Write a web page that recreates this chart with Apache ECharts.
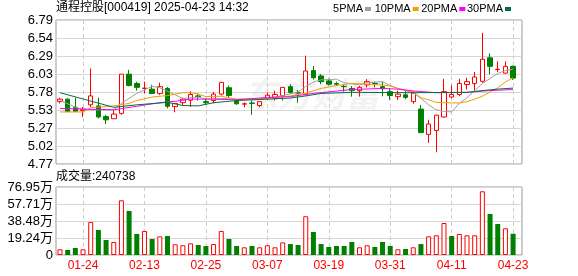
<!DOCTYPE html>
<html><head><meta charset="utf-8">
<script src="https://cdn.jsdelivr.net/npm/echarts@6/dist/echarts.min.js"></script>
<style>html,body{margin:0;padding:0;background:#fff}#c{width:578px;height:276px}</style>
</head><body><div id="c"></div>
<script>
const titleText = '通程控股[000419] 2025-04-23 14:32';
const volTitle = '成交量:240738';
const dates = ['01-21','01-22','01-23','01-24','01-27','02-05','02-06','02-07','02-10','02-11','02-12','02-13','02-14','02-17','02-18','02-19','02-20','02-21','02-24','02-25','02-26','02-27','02-28','03-03','03-04','03-05','03-06','03-07','03-10','03-11','03-12','03-13','03-14','03-17','03-18','03-19','03-20','03-21','03-24','03-25','03-26','03-27','03-28','03-31','04-01','04-02','04-03','04-07','04-08','04-09','04-10','04-11','04-14','04-15','04-16','04-17','04-18','04-21','04-22','04-23'];
// [open, close, low, high]
const candles = [
[5.645,5.68,5.62,5.70],[5.68,5.505,5.50,5.69],[5.565,5.51,5.50,5.70],[5.52,5.54,5.43,5.57],[5.60,5.725,5.565,6.11],
[5.585,5.43,5.41,5.70],[5.435,5.39,5.33,5.46],[5.405,5.47,5.40,5.53],[5.48,6.03,5.46,6.03],[6.03,5.87,5.86,6.09],
[5.90,5.845,5.80,5.925],[5.83,5.835,5.76,5.925],[5.82,5.76,5.75,5.88],[5.76,5.855,5.74,5.91],[5.83,5.58,5.55,5.85],
[5.575,5.62,5.495,5.625],[5.63,5.68,5.60,5.70],[5.665,5.745,5.57,5.79],[5.725,5.715,5.66,5.76],[5.645,5.63,5.60,5.69],
[5.66,5.75,5.62,5.78],[5.75,5.915,5.73,5.92],[5.84,5.73,5.71,5.87],[5.655,5.615,5.60,5.68],[5.61,5.615,5.565,5.635],
[5.625,5.62,5.46,5.66],[5.59,5.645,5.565,5.65],[5.69,5.735,5.67,5.77],[5.69,5.745,5.66,5.80],[5.73,5.845,5.66,5.85],
[5.855,5.775,5.75,5.89],[5.77,5.765,5.63,5.81],[5.75,6.075,5.73,6.29],[6.08,5.98,5.955,6.145],[6.005,5.925,5.89,6.03],
[5.935,5.89,5.87,5.97],[5.90,5.89,5.865,5.925],[5.86,5.855,5.785,5.89],[5.83,5.80,5.715,5.865],[5.80,5.845,5.715,5.865],
[5.88,5.925,5.845,5.96],[5.90,5.895,5.845,5.925],[5.855,5.825,5.72,5.92],[5.785,5.73,5.67,5.835],[5.715,5.75,5.67,5.80],
[5.74,5.705,5.68,5.79],[5.645,5.765,5.615,5.79],[5.54,5.21,5.21,5.595],[5.185,5.33,5.065,5.39],[5.24,5.455,4.935,5.46],
[5.43,5.785,5.42,5.965],[5.71,5.745,5.69,5.875],[5.745,5.90,5.72,5.965],[5.885,5.925,5.815,5.98],[5.90,5.99,5.785,6.06],
[5.93,6.24,5.91,6.61],[6.26,6.14,6.03,6.32],[6.095,6.10,6.06,6.21],[6.045,6.14,6.04,6.21],[6.14,5.975,5.95,6.15]
];
const volumes = [64500,56600,79000,64500,373000,283000,170000,147000,619000,498000,
238000,272000,181000,211000,215000,121000,110000,132000,113000,102000,
124000,272000,181000,102000,87000,102000,87000,110000,87000,143000,
124000,113000,438000,260000,124000,90500,102000,102000,147000,87000,
110000,90500,147000,102000,64500,68000,87000,124000,211000,223000,
362000,215000,238000,223000,223000,721000,464000,351000,302000,240738];
const volUp = [1,0,0,1,1,0,0,1,1,0,0,1,0,1,0,1,1,1,0,0,1,1,0,0,1,0,1,1,1,1,0,0,1,0,0,0,0,0,0,1,1,0,0,0,1,0,1,0,1,1,1,0,1,1,1,1,0,0,1,0];
// moving averages: [candle index, value]
const ma5 = [[0,5.66],[2,5.57],[3,5.53],[7,5.53],[8,5.62],[9,5.69],[10,5.76],[12,5.86],[13,5.84],[15,5.74],[16,5.69],[18,5.71],[19,5.68],[21,5.69],[23,5.68],[25,5.68],[27,5.69],[29,5.73],[31,5.78],[32,5.86],[33,5.92],[34,5.95],[36,5.96],[37,5.91],[39,5.88],[40,5.91],[42,5.925],[43,5.87],[44,5.83],[46,5.77],[47,5.69],[48,5.60],[49,5.53],[50,5.51],[51,5.50],[52,5.62],[53,5.70],[54,5.80],[55,5.90],[56,5.97],[57,6.04],[58,6.08],[59,6.10]];
const ma10 = [[0,5.50],[3,5.50],[4,5.56],[7,5.585],[9,5.62],[10,5.66],[12,5.71],[14,5.73],[16,5.77],[17,5.77],[18,5.75],[19,5.715],[21,5.72],[23,5.68],[26,5.68],[28,5.70],[30,5.725],[32,5.765],[34,5.83],[36,5.87],[38,5.90],[40,5.89],[42,5.88],[43,5.865],[44,5.83],[46,5.785],[47,5.70],[48,5.67],[49,5.635],[50,5.63],[52,5.625],[53,5.645],[54,5.68],[55,5.72],[56,5.78],[57,5.84],[58,5.92],[59,5.98]];
const ma20 = [[0,5.55],[3,5.54],[7,5.53],[10,5.58],[13,5.63],[15,5.65],[17,5.68],[20,5.68],[23,5.67],[27,5.705],[30,5.715],[33,5.76],[38,5.815],[42,5.83],[44,5.82],[46,5.795],[49,5.77],[53,5.775],[56,5.80],[59,5.815]];
const ma30 = [[0,5.77],[7,5.565],[10,5.60],[14,5.635],[16,5.59],[18,5.585],[20,5.63],[23,5.66],[27,5.68],[30,5.695],[32,5.725],[34,5.76],[38,5.775],[46,5.77],[53,5.775],[55,5.80],[57,5.82],[59,5.835]];
const maNames = ['5PMA','10PMA','20PMA','30PMA'];
const maColors = ['#a0a0a0','#f0a000','#ff00ff','#00703c'];
const xTickIdx = [3,11,19,27,35,43,51,59];
const priceTickLabels = ['4.77','5.02','5.27','5.53','5.78','6.03','6.29','6.54','6.79'];
const priceMin = 4.77, priceMax = 6.79;
const volTickLabels = ['0','19.24万','38.48万','57.71万','76.95万'];
const volMax = 769500;

const FONT = "'Liberation Sans', Arial, 'Noto Sans CJK SC', sans-serif";
const xMin = -0.52, xMax = 60.16;
const chart = echarts.init(document.getElementById('c'));
const maData = [ma5, ma10, ma20, ma30];
const legendText = [[338,365],[380,412.7],[425.7,459.3],[471.7,505]];
const graphic = [];
maNames.forEach((n,k)=>{
  graphic.push({type:'text', x: legendText[k][1]-2, y: 8.5, style:{text:n, font:'11px '+FONT, fill:'#000', align:'right', verticalAlign:'middle'}});
  graphic.push({type:'rect', shape:{x:legendText[k][1], y:7, width:6, height:4}, style:{fill:maColors[k]}});
});
graphic.push({type:'text', x:56, y:177, style:{text:volTitle, font:'12px '+FONT, fill:'#000', verticalAlign:'middle'}});
graphic.push({type:'text', x:312, y:94, z:-1, style:{text:'东方财富', font:'italic bold 34px "Noto Sans CJK SC"', fill:'rgba(0,0,0,0.05)', align:'center', verticalAlign:'middle'}});

const xBase = {type:'value', min:xMin, max:xMax, axisLine:{show:false}, axisTick:{show:false, customValues:xTickIdx},
  splitLine:{show:true, lineStyle:{color:'#cccccc', type:[4,3], width:1}}};
const option = {
  animation:false,
  backgroundColor:'#fff',
  title:{text:titleText, left:56, top:2, padding:0, textStyle:{fontSize:12, fontWeight:'normal', color:'#000', fontFamily:FONT}},
  graphic: graphic,
  grid:[
    {left:56, top:20, width:466, height:144, show:true, borderColor:'#999', borderWidth:1},
    {left:56, top:187, width:466, height:68, show:true, borderColor:'#999', borderWidth:1}
  ],
  xAxis:[
    Object.assign({gridIndex:0, axisLabel:{show:false, customValues:xTickIdx}}, xBase),
    Object.assign({gridIndex:1, axisLabel:{show:true, customValues:xTickIdx, formatter:v=>dates[Math.round(v)], color:'#ff0000', fontSize:12, margin:5, fontFamily:FONT}}, xBase)
  ],
  yAxis:[
    {type:'value', gridIndex:0, min:0, max:priceTickLabels.length-1, interval:1, axisLine:{show:false}, axisTick:{show:false},
     axisLabel:{formatter:v=>priceTickLabels[Math.round(v)], fontSize:13, color:'#000', margin:3, fontFamily:FONT},
     splitLine:{lineStyle:{color:'#d6d6d6'}}},
    {type:'value', gridIndex:0, min:priceMin, max:priceMax, show:false, splitLine:{show:false}},
    {type:'value', gridIndex:1, min:0, max:volMax, interval:volMax/4, axisLine:{show:false}, axisTick:{show:false},
     axisLabel:{formatter:v=>volTickLabels[Math.round(v/(volMax/4))], fontSize:13, color:'#000', margin:3, fontFamily:FONT},
     splitLine:{lineStyle:{color:'#d6d6d6'}}}
  ],
  series:[
    {type:'candlestick', xAxisIndex:0, yAxisIndex:1, barWidth:5, z:2,
     data:candles.map((c,i)=>[i,c[0],c[1],c[2],c[3]]),
     itemStyle:{color:'#ffffff', color0:'#008000', borderColor:'#ff0000', borderColor0:'#008000', borderWidth:1}},
    ...maData.map((d,k)=>({type:'line', xAxisIndex:0, yAxisIndex:1, data:d, showSymbol:false, symbol:'none', z:3, silent:true,
      lineStyle:{width:1, color:maColors[k]}})),
    {type:'bar', xAxisIndex:1, yAxisIndex:2, barWidth:5,
     data:volumes.map((v,i)=>({value:[i,v], itemStyle: volUp[i] ? {color:'#ffffff', borderColor:'#ff0000', borderWidth:1} : {color:'#008000'}}))}
  ]
};
chart.setOption(option);
</script></body></html>
